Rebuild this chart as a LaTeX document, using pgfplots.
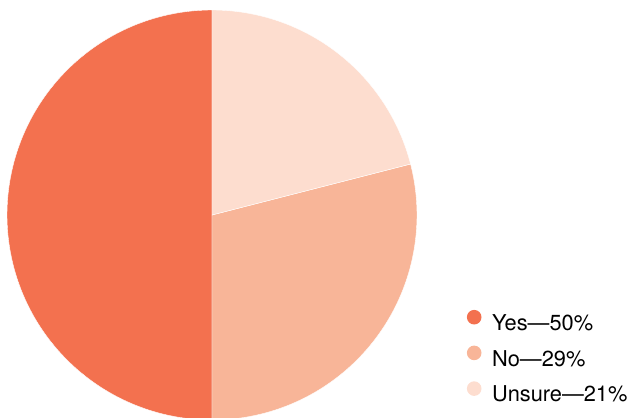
\documentclass[border=0pt]{standalone}
\usepackage{pgfplots}
\pgfplotsset{compat=1.18}
\usepackage{fontspec}
\setmainfont{TeX Gyre Heros}
\definecolor{cyes}{HTML}{F3714F}
\definecolor{cno}{HTML}{F8B598}
\definecolor{cunsure}{HTML}{FDDDCF}
\begin{document}
\begin{tikzpicture}
% shares in percent
\def\vyes{50}\def\vno{29}\def\vunsure{21}
\pgfmathsetmacro{\aA}{90}
\pgfmathsetmacro{\aB}{\aA-3.6*\vunsure}
\pgfmathsetmacro{\aC}{\aB-3.6*\vno}
\pgfmathsetmacro{\aD}{\aC-3.6*\vyes}
\begin{axis}[
  scale only axis, width=627pt, height=418pt,
  xmin=0, xmax=627, ymin=0, ymax=418,
  hide axis, clip=true,
  legend image code/.code={\fill[#1, draw=none] (0pt,7.6pt) circle (7.3pt); \path (-7.3pt,7.6pt) (17.7pt,7.6pt);},
  legend cell align=left,
  legend style={at={(axis cs:466.7,11.3)}, anchor=south west, draw=none, fill=none,
    inner sep=0pt, outer sep=0pt, column sep=0pt, row sep=10.3pt,
    font=\fontsize{21.8pt}{26pt}\selectfont,
    nodes={inner sep=0pt, text height=16pt, text depth=5pt}},
]
\addplot[fill=cyes, draw=white, line width=0.4pt, domain=\aD:\aC, samples=150]
  ({212+205*cos(x)},{203+205*sin(x)}) -- (axis cs:212,203) -- cycle;
\addlegendentry{Yes—50\%}
\addplot[fill=cno, draw=white, line width=0.4pt, domain=\aC:\aB, samples=100]
  ({212+205*cos(x)},{203+205*sin(x)}) -- (axis cs:212,203) -- cycle;
\addlegendentry{No—29\%}
\addplot[fill=cunsure, draw=white, line width=0.4pt, domain=\aB:\aA, samples=80]
  ({212+205*cos(x)},{203+205*sin(x)}) -- (axis cs:212,203) -- cycle;
\addlegendentry{Unsure—21\%}
\end{axis}
\pgfresetboundingbox
\path (current axis.south west) rectangle (current axis.north east);
\end{tikzpicture}
\end{document}
